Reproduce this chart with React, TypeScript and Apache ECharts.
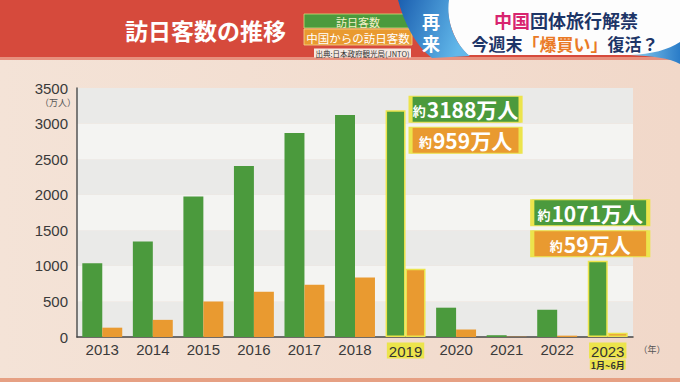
import React, { useEffect, useRef } from "react";
import * as echarts from "echarts";

const years = ["2013", "2014", "2015", "2016", "2017", "2018", "2019", "2020", "2021", "2022", "2023"];
const totalVisitors = [1036, 1341, 1974, 2404, 2869, 3119, 3188, 412, 25, 383, 1071];
const chinaVisitors = [131, 241, 499, 637, 736, 838, 959, 107, 4, 19, 59];
const highlightYears = ["2019", "2023"];
const subLabel2023 = "1月~6月";
const calloutYears = ["2019", "2023"];
const calloutTotals = ["3188", "1071"];
const calloutChina = ["959", "59"];

const GREEN = "#4b9a3d";
const ORANGE = "#e99a30";
const YELLOW = "#ece44c";
const FONT = "'Noto Sans CJK JP', 'Noto Sans', sans-serif";
const NUMFONT = "'Liberation Sans', Arial, sans-serif";

echarts.graphic.registerShape(
  "whiteBox",
  echarts.graphic.extendPath("M448,0 L680,0 L680,55 L468,55 C456,44 446,22 448,0 Z", {})
);
echarts.graphic.registerShape(
  "blueSwoosh",
  echarts.graphic.extendPath("M398,0 L449,0 C446,22 455,44 470,56 L432,58 C414,44 404,22 398,0 Z", {})
);
echarts.graphic.registerShape(
  "blueTail",
  echarts.graphic.extendPath("M630,55 C652,54 668,50 680,42 L680,64 C670,58 652,56 630,55 Z", {})
);

export default function App() {
  const ref = useRef<HTMLDivElement>(null);
  useEffect(() => {
    if (!ref.current) return;
    const chart = echarts.init(ref.current, null, { renderer: "svg" });

    const hiStyle = (color: string) => ({ color, borderColor: YELLOW, borderWidth: 1.5 });
    const totalData = totalVisitors.map((v, i) =>
      highlightYears.includes(years[i]) ? { value: v, itemStyle: hiStyle(GREEN) } : v
    );
    const chinaData = chinaVisitors.map((v, i) =>
      highlightYears.includes(years[i]) ? { value: v, itemStyle: hiStyle(ORANGE) } : v
    );

    const boxLabel = (num: string) => ({
      show: true,
      position: "inside",
      formatter: `{a|約}{b|${num}万人}`,
      rich: {
        a: { fontSize: 13, color: "#fff", fontWeight: "bold", fontFamily: FONT, padding: [3, 1, 0, 0] },
        b: { fontSize: 21, color: "#fff", fontWeight: "bold", fontFamily: FONT },
      },
    });
    const offsets = [
      { x: 70, y1: -1, y2: 30, w: 110 },
      { x: -7.5, y1: -48, y2: -17, w: 116 },
    ];
    const markData: any[] = [];
    calloutYears.forEach((yr, i) => {
      const idx = years.indexOf(yr);
      const o = offsets[i];
      markData.push({
        coord: [yr, totalVisitors[idx]],
        symbol: "rect",
        symbolSize: [o.w, 26],
        symbolOffset: [o.x, o.y1],
        itemStyle: { color: GREEN, borderColor: YELLOW, borderWidth: 2 },
        label: boxLabel(calloutTotals[i]),
      });
      markData.push({
        coord: [yr, totalVisitors[idx]],
        symbol: "rect",
        symbolSize: [o.w, 26],
        symbolOffset: [o.x, o.y2],
        itemStyle: { color: ORANGE, borderColor: YELLOW, borderWidth: 2 },
        label: boxLabel(calloutChina[i]),
      });
    });

    chart.setOption({
      animation: false,
      backgroundColor: {
        type: "linear", x: 0, y: 0, x2: 1, y2: 0,
        colorStops: [
          { offset: 0, color: "#f4e3d7" },
          { offset: 1, color: "#f1d8c9" },
        ],
      },
      textStyle: { fontFamily: FONT },
      grid: { left: 77, right: 47, top: 88, bottom: 45 },
      xAxis: {
        type: "category",
        data: years,
        axisLine: { show: true, lineStyle: { color: "#444", width: 1.5 } },
        axisTick: { show: false },
        axisLabel: {
          interval: 0,
          margin: 5,
          fontSize: 15,
          color: "#3a3a3a",
          fontFamily: NUMFONT,
          formatter: (v: string) => {
            if (v === "2023") return `{hl|${v}}\n{sub|${subLabel2023}}`;
            if (highlightYears.includes(v)) return `{hl|${v}}`;
            return v;
          },
          rich: {
            hl: { fontSize: 15, lineHeight: 17, color: "#333", backgroundColor: YELLOW, padding: [1, 2, 0, 2], fontFamily: NUMFONT },
            sub: { fontSize: 9, lineHeight: 11, color: "#333", backgroundColor: YELLOW, padding: [1, 1, 0, 1], fontFamily: FONT, fontWeight: "bold" },
          },
        },
      },
      yAxis: {
        type: "value",
        min: 0,
        max: 3500,
        interval: 500,
        axisLine: { show: true, lineStyle: { color: "#555", width: 1.5 } },
        axisTick: { show: false },
        splitLine: { show: false },
        splitArea: { show: true, areaStyle: { color: ["#eaeae8", "#f4f4f2"] } },
        axisLabel: {
          fontSize: 15, color: "#3a3a3a", margin: 9, fontFamily: NUMFONT,
          formatter: (v: number) => String(v),
        },
      },
      series: [
        {
          name: "訪日客数",
          type: "bar",
          data: totalData,
          itemStyle: { color: GREEN },
          barGap: "0%",
          barCategoryGap: "21%",
          markPoint: { data: markData, z: 10 },
        },
        {
          name: "中国からの訪日客数",
          type: "bar",
          data: chinaData,
          itemStyle: { color: ORANGE },
          barGap: "0%",
          barCategoryGap: "21%",
        },
      ],
      graphic: [
        { type: "rect", shape: { x: 0, y: 0, width: 680, height: 57 }, style: { fill: "#d64a3c" }, z: 1 },
        { type: "rect", shape: { x: 0, y: 57, width: 680, height: 3 }, style: { fill: "#e7917e" }, z: 1 },
        { type: "rect", shape: { x: 0, y: 378, width: 680, height: 4 }, style: { fill: "#e6a083" }, z: 1 },
        {
          type: "text", x: 125, y: 30, z: 5,
          style: { text: "訪日客数の推移", fill: "#fff", fontSize: 23, fontWeight: "bold", fontFamily: FONT, verticalAlign: "middle" },
        },
        { type: "rect", shape: { x: 304, y: 14, width: 108, height: 14 }, style: { fill: GREEN, stroke: "#cfe07a", lineWidth: 0.8 }, z: 5 },
        {
          type: "text", x: 358, y: 21.5, z: 6,
          style: { text: "訪日客数", fill: "#f4f0c8", fontSize: 11, fontFamily: FONT, align: "center", verticalAlign: "middle" },
        },
        { type: "rect", shape: { x: 304, y: 29, width: 108, height: 16 }, style: { fill: ORANGE, stroke: "#f4d88a", lineWidth: 0.8 }, z: 5 },
        {
          type: "text", x: 358, y: 37.5, z: 6,
          style: { text: "中国からの訪日客数", fill: "#fff", fontSize: 11.5, fontFamily: FONT, align: "center", verticalAlign: "middle" },
        },
        { type: "rect", shape: { x: 314, y: 48.5, width: 97, height: 9 }, style: { fill: "#f6e9e2" }, z: 5 },
        {
          type: "text", x: 362.5, y: 53.5, z: 6,
          style: { text: "出典:日本政府観光局(JNTO)", fill: "#333", fontSize: 7.5, fontFamily: FONT, align: "center", verticalAlign: "middle" },
        },
        { type: "whiteBox", z: 4, style: { fill: "#fdfdfd" } },
        {
          type: "blueSwoosh", z: 5,
          style: {
            fill: {
              type: "linear", x: 0, y: 0, x2: 1, y2: 0.3,
              colorStops: [
                { offset: 0, color: "#1b5fb0" },
                { offset: 1, color: "#62b8ea" },
              ],
            },
          },
        },
        {
          type: "blueTail", z: 5,
          style: {
            fill: {
              type: "linear", x: 0, y: 0, x2: 1, y2: 0,
              colorStops: [
                { offset: 0, color: "#8fd0f0" },
                { offset: 1, color: "#2a7cc8" },
              ],
            },
          },
        },
        {
          type: "text", x: 431, y: 32, z: 6,
          style: { text: "再\n来", fill: "#fff", fontSize: 18, lineHeight: 22, fontWeight: "bold", fontFamily: FONT, align: "center", verticalAlign: "middle" },
        },
        {
          type: "text", x: 566, y: 20, z: 6,
          style: {
            text: "{p|中国}{n|団体旅行解禁}",
            align: "center", verticalAlign: "middle",
            rich: {
              p: { fill: "#d8246f", fontSize: 18, lineHeight: 20, fontWeight: "bold", fontFamily: FONT },
              n: { fill: "#1d3567", fontSize: 18, lineHeight: 20, fontWeight: "bold", fontFamily: FONT },
            },
          },
        },
        {
          type: "text", x: 565, y: 43, z: 6,
          style: {
            text: "{n|今週末}{o|「爆買い」}{n|復活？}",
            align: "center", verticalAlign: "middle",
            rich: {
              o: { fill: "#ea7a26", fontSize: 17, lineHeight: 19, fontWeight: "bold", fontFamily: FONT },
              n: { fill: "#1d3567", fontSize: 17, lineHeight: 19, fontWeight: "bold", fontFamily: FONT },
            },
          },
        },
        {
          type: "text", x: 58, y: 102, z: 6,
          style: { text: "（万人）", fill: "#555", fontSize: 9, lineHeight: 10, fontFamily: FONT, align: "center", verticalAlign: "middle" },
        },
        {
          type: "text", x: 652, y: 349, z: 6,
          style: { text: "（年）", fill: "#555", fontSize: 9, fontFamily: FONT, align: "center", verticalAlign: "middle" },
        },
      ],
    });
    return () => chart.dispose();
  }, []);
  return (
    <div
      ref={ref}
      style={{ position: "fixed", left: 0, top: 0, width: 680, height: 382 }}
    />
  );
}
